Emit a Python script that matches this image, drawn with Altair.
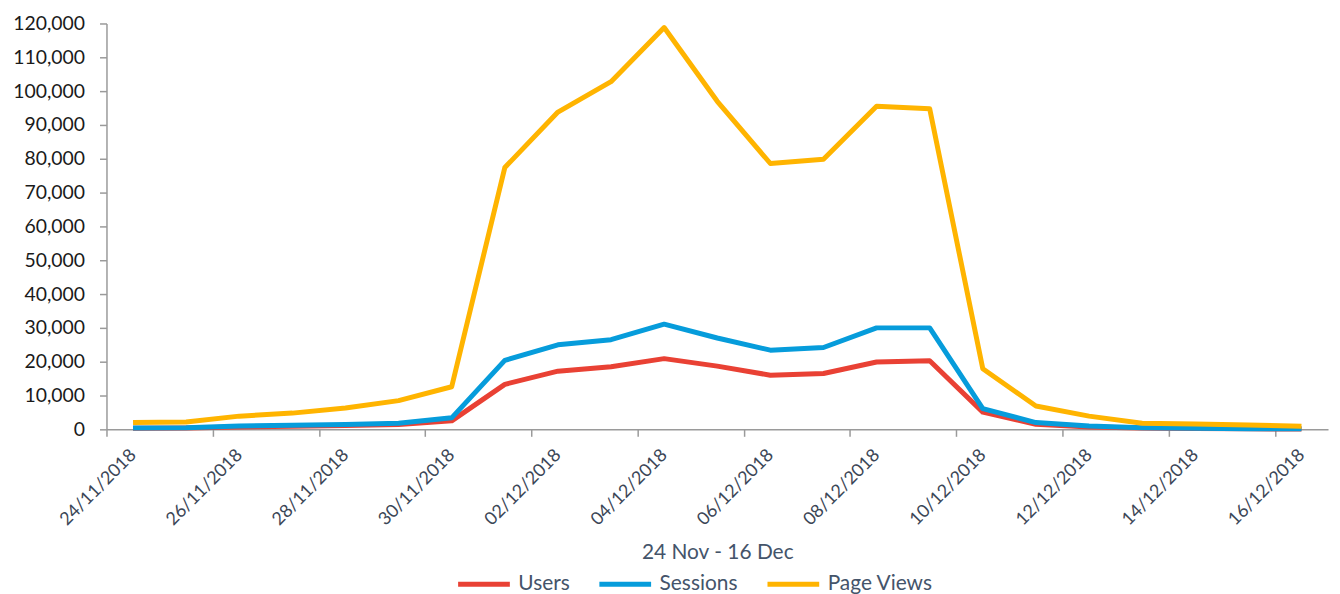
import altair as alt
import pandas as pd

dates = ["24/11/2018", "25/11/2018", "26/11/2018", "27/11/2018", "28/11/2018", "29/11/2018",
         "30/11/2018", "01/12/2018", "02/12/2018", "03/12/2018", "04/12/2018", "05/12/2018",
         "06/12/2018", "07/12/2018", "08/12/2018", "09/12/2018", "10/12/2018", "11/12/2018",
         "12/12/2018", "13/12/2018", "14/12/2018", "15/12/2018", "16/12/2018"]

users = [300, 400, 700, 900, 1100, 1400, 2500, 13300, 17200, 18500, 20900, 18700,
         16000, 16500, 19900, 20300, 5100, 1500, 700, 400, 250, 150, 100]
sessions = [400, 500, 1000, 1200, 1400, 1800, 3400, 20400, 25000, 26500, 31100, 27000,
            23400, 24200, 30000, 30000, 6100, 2000, 1000, 500, 300, 200, 150]
page_views = [2000, 2150, 3900, 4800, 6300, 8500, 12600, 77400, 93800, 102800, 118800, 97000,
              78600, 79850, 95500, 94800, 17900, 6900, 3900, 1800, 1600, 1300, 900]

series_names = ["Users", "Sessions", "Page Views"]
series_colors = ["#E94134", "#069CDB", "#FFB400"]
y_ticks = list(range(0, 120001, 10000))
x_tick_positions = [i - 0.5 for i in range(0, 23, 2)]

rows = []
for name, vals in zip(series_names, [users, sessions, page_views]):
    for i, (d, v) in enumerate(zip(dates, vals)):
        rows.append({"idx": i, "date": d, "series": name, "value": v})
df = pd.DataFrame(rows)

W = 1228
H = 408
n = len(dates)
band = W / n

label_array = "[" + ",".join("'" + d + "'" for d in dates) + "]"
label_expr = label_array + "[round(datum.value + 0.5)]"

FONT = "Lato"

chart = alt.Chart(df).mark_line(strokeWidth=5, strokeJoin="round").encode(
    x=alt.X("idx:Q",
            scale=alt.Scale(domain=[-0.5, n - 0.5], nice=False, zero=False),
            axis=alt.Axis(values=x_tick_positions, labelExpr=label_expr,
                          labelOffset=band / 2, labelAngle=-45, labelAlign="right",
                          labelBaseline="middle", labelPadding=16,
                          labelFontSize=18, labelColor="#3B4656", labelFont=FONT,
                          tickSize=7, tickColor="#9A9A9A", tickWidth=1.5,
                          domainColor="#9A9A9A", domainWidth=1.5, grid=False,
                          labelOverlap=False, labelBound=False, labelFlush=False,
                          title="24 Nov - 16 Dec", titleFont=FONT, titleFontSize=21,
                          titleFontWeight="normal", titleColor="#44546A",
                          titleBaseline="alphabetic", titleY=130)),
    y=alt.Y("value:Q",
            scale=alt.Scale(domain=[0, 120000], nice=False),
            axis=alt.Axis(values=y_ticks, labelExpr="format(datum.value, ',.0f')",
                          labelFontSize=19.5, labelFont=FONT,
                          labelColor="#1A1A1A", labelPadding=15,
                          tickSize=7, tickColor="#9A9A9A", tickWidth=1.5,
                          domainColor="#9A9A9A", domainWidth=1.5, grid=False, title=None)),
    color=alt.Color("series:N",
                    scale=alt.Scale(domain=series_names, range=series_colors),
                    sort=series_names,
                    legend=alt.Legend(orient="none", legendX=351, legendY=535,
                                      direction="horizontal", title=None,
                                      symbolType="stroke", symbolSize=2704,
                                      symbolStrokeWidth=5, labelFontSize=21,
                                      labelFont=FONT, labelColor="#44546A",
                                      labelOffset=6, columnPadding=19)),
    order="idx:Q",
).properties(
    width=W, height=H,
    autosize=alt.AutoSizeParams(type="none"),
    padding={"left": 99, "top": 14, "right": 4, "bottom": 170},
).configure_view(stroke=None)

chart.save("out.html", embed_options={"renderer": "svg", "actions": False})
